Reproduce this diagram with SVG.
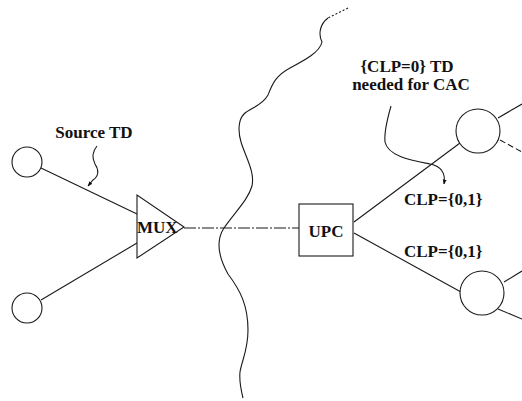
<svg xmlns="http://www.w3.org/2000/svg" width="522" height="401" viewBox="0 0 522 401">
  <defs>
    <style>
      .ln { fill: none; stroke: #1a1a1a; stroke-width: 1.1; }
      .dd { fill: none; stroke: #1a1a1a; stroke-width: 1.1; stroke-dasharray: 12 2 2 2; }
      .nd { fill: #fff; stroke: #1a1a1a; stroke-width: 1.1; }
      .lb { font-family: "Liberation Serif", "Times New Roman", serif; font-weight: bold; font-size: 17px; fill: #111; }
    </style>
    <marker id="tip" viewBox="0 0 10 10" refX="9" refY="5" markerWidth="5" markerHeight="5" orient="auto" markerUnits="userSpaceOnUse">
      <path d="M0,1 L10,5 L0,9 Z" fill="#111"/>
    </marker>
  </defs>

  <!-- network boundary -->
  <g id="boundary">
    <path class="ln" d="M348,8 L328,18" stroke-dasharray="2 2"/>
    <path class="ln" d="M328,18 C320,24 318,34 322,42 C320,52 305,60 290,68 C275,76 272,85 268,95 C262,106 250,108 244,114 C238,120 238,132 241,142 C246,158 255,172 252,186 C248,200 235,212 224,228 C216,240 218,256 228,274 C240,290 248,305 248,330 C248,350 242,360 240,372 C239,382 241,390 243,398"/>
  </g>

  <!-- connectors -->
  <g id="connectors">
    <line class="ln" x1="41" y1="168" x2="137" y2="214"/>
    <line class="ln" x1="41" y1="300" x2="137" y2="243"/>
    <line class="dd" x1="184" y1="228" x2="299" y2="228"/>
    <line class="ln" x1="354" y1="222" x2="460" y2="143"/>
    <line class="ln" x1="354" y1="233" x2="461" y2="292"/>
    <line class="ln" x1="498" y1="118" x2="522" y2="104"/>
    <line class="ln" x1="500" y1="140" x2="522" y2="152" stroke-dasharray="6 3"/>
    <line class="ln" x1="504" y1="282" x2="522" y2="271"/>
    <line class="ln" x1="498" y1="309" x2="522" y2="319"/>
  </g>

  <!-- sources -->
  <g id="src-top"><circle class="nd" cx="27" cy="162" r="15"/></g>
  <g id="src-bottom"><circle class="nd" cx="27" cy="308" r="15"/></g>

  <!-- multiplexer -->
  <g id="mux">
    <path class="nd" d="M137,195 L137,258 L184,227 Z"/>
    <text class="lb" x="137" y="233">MUX</text>
  </g>

  <!-- policing function -->
  <g id="upc">
    <rect class="nd" x="299" y="204" width="54" height="52"/>
    <text class="lb" x="326" y="237" text-anchor="middle" font-size="18">UPC</text>
  </g>

  <!-- destinations -->
  <g id="dst-top"><circle class="nd" cx="478" cy="131" r="22"/></g>
  <g id="dst-bottom"><circle class="nd" cx="482" cy="293" r="22"/></g>

  <!-- annotations -->
  <g id="note-source">
    <text class="lb" x="94" y="138" text-anchor="middle">Source TD</text>
    <path class="ln" d="M97,146 C92,152 92,158 95,164 C99,170 99,176 93,180 L88,186" marker-end="url(#tip)"/>
  </g>
  <g id="note-cac">
    <text class="lb" x="407" y="72" text-anchor="middle">{CLP=0} TD</text>
    <text class="lb" x="411" y="90" text-anchor="middle">needed for CAC</text>
    <path class="ln" d="M391,106 C387,120 384,132 385,142 C388,156 410,160 430,164 C440,166 446,172 444,184" marker-end="url(#tip)"/>
  </g>
  <g id="label-upper"><text class="lb" x="404" y="205">CLP={0,1}</text></g>
  <g id="label-lower"><text class="lb" x="404" y="257">CLP={0,1}</text></g>
</svg>
